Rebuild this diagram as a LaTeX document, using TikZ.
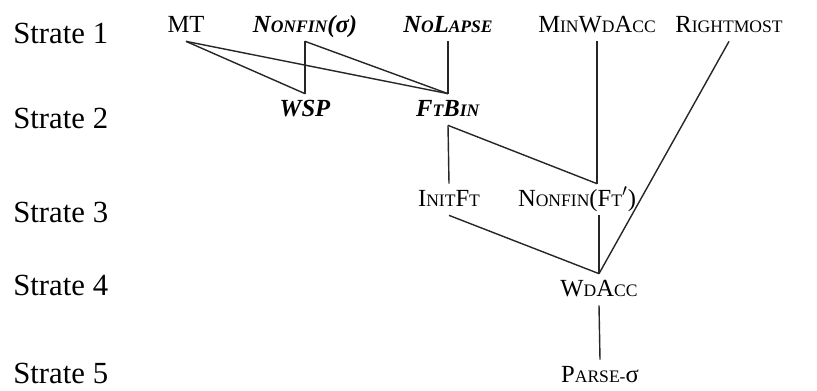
\documentclass[tikz,border=0pt]{standalone}
\usepackage{fontspec}
\setmainfont{Liberation Serif}
\usepackage{tikz}
\usetikzlibrary{positioning}
\newcommand{\lo}[1]{{\fontsize{10}{12}\selectfont #1}}

\begin{document}
\begin{tikzpicture}[x=0.02cm, y=-0.02cm,
  strate/.style={anchor=base west, inner sep=0pt, font=\fontsize{17.5}{20}\selectfont},
  cons/.style={anchor=base, inner sep=0.1cm, text height=0.34cm, text depth=0.08cm, font=\fontsize{14}{16}\selectfont},
  tie/.style={line width=0.8pt, black!85}]
\useasboundingbox (0,0) rectangle (817,390);
% strata
\foreach \i/\y in {1/43, 2/128, 3/222, 4/295, 5/383}
    \node[strate] (strate\i) at (13,\y) {Strate \i};
% constraints
\node[cons] (mt)  at (186,32) {MT};
\node[cons] (nfs) at (305,32) {\textbf{\textit{N\lo{ONFIN}(σ)}}};
\node[cons] (nl)  at (448,32) {\textbf{\textit{N\lo{O}L\lo{APSE}}}};
\node[cons] (mwa) at (597,32) {M\lo{IN}W\lo{D}A\lo{CC}};
\node[cons] (rm)  at (729,32) {R\lo{IGHTMOST}};
\node[cons] (wsp) at (305,116) {\textbf{\textit{WSP}}};
\node[cons] (fb)  at (448,116) {\textbf{\textit{F\lo{T}B\lo{IN}}}};
\node[cons] (ift) at (449,206) {I\lo{NIT}F\lo{T}};
\node[cons] (nff) at (577,206) {N\lo{ONFIN}(F\lo{T}$'$)};
\node[cons] (wa)  at (599,296) {W\lo{D}A\lo{CC}};
\node[cons] (pa)  at (600,382) {P\lo{ARSE-}σ};
% rankings
\draw[tie] (mt.south) -- (wsp.north);
\draw[tie] (mt.south) -- (fb.north);
\draw[tie] (nfs.south) -- (wsp.north);
\draw[tie] (nfs.south) -- (fb.north);
\draw[tie] (nl.south) -- (fb.north);
\draw[tie] (fb.south) -- (ift.north);
\draw[tie] (fb.south) -- (nff.north -| mwa.south);
\draw[tie] (mwa.south) -- (nff.north -| mwa.south);
\draw[tie] (ift.south) -- (wa.north);
\draw[tie] (nff.south -| wa.north) -- (wa.north);
\draw[tie] (rm.south) -- (wa.north);
\draw[tie] (wa.south) -- (pa.north);
\end{tikzpicture}
\end{document}
